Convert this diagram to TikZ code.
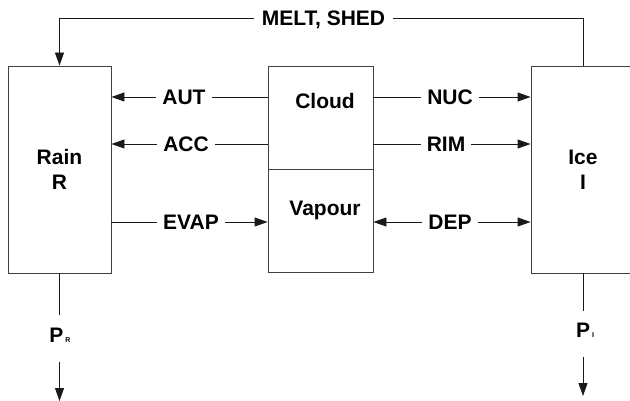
\documentclass[tikz,border=0pt]{standalone}
\usepackage{fontspec}
\setmainfont{Liberation Sans}
\usetikzlibrary{arrows.meta}
\begin{document}
\begin{tikzpicture}[x=1pt, y=-1pt,
    every node/.style={font=\bfseries\fontsize{21}{25}\selectfont},
    box/.style={draw=black!75, line width=0.9pt, inner sep=0pt},
    flux/.style={inner xsep=6pt, inner ysep=2pt, text depth=0pt},
    link/.style={line width=0.9pt, draw=black!90},
    tip/.style={link, -{Triangle[length=13pt, width=9pt]}}]
  \useasboundingbox (0,0) rectangle (630,401);
  \node[box, minimum width=103pt, minimum height=207pt, align=center] (rain) at (59.5,169.5) {Rain\\R};
  \node[box, minimum width=105pt, minimum height=103pt] (cloud) at (320.5,117.5) {};
  \node[box, minimum width=105pt, minimum height=103pt] (vapour) at (320.5,220.5) {};
  \node[box, minimum width=104pt, minimum height=207pt, align=center] (ice) at (583,169.5) {\raisebox{-3pt}{\shortstack{Ice\\[7pt]I}}};
  \node[anchor=base] (cloudtxt) at (325,109) {Cloud};
  \node[anchor=base] (vapourtxt) at (325,216) {Vapour};
  \node[flux, inner xsep=8pt] (melt) at (323.5,18) {MELT, SHED};
  \node[flux] (aut)  at (184,97)  {AUT};
  \node[flux] (acc)  at (186,144) {ACC};
  \node[flux] (evap) at (191,222) {EVAP};
  \node[flux] (nuc)  at (450,97)  {NUC};
  \node[flux] (rim)  at (446,144) {RIM};
  \node[flux] (dep)  at (450,222) {DEP};
  \node[text depth=0pt, inner sep=0pt] (pr) at (60,335) {P\kern2pt{\fontsize{7}{8}\selectfont R}};
  \node[text depth=0pt, inner sep=0pt] (pi) at (585,330) {P\kern2pt{\fontsize{7}{8}\selectfont I}};
  \coordinate (prA) at (59.5,315);
  \coordinate (prB) at (59.5,362);
  \coordinate (prC) at (59.5,401);
  \coordinate (piA) at (583,311);
  \coordinate (piB) at (583,357);
  \coordinate (piC) at (583,396);
  \draw[tip] (melt.west) -| (rain.north);
  \draw[link] (melt.east) -| (ice.north);
  \draw[tip] (aut.west) -- (rain.east |- aut);
  \draw[link] (cloud.west |- aut) -- (aut.east);
  \draw[tip] (acc.west) -- (rain.east |- acc);
  \draw[link] (cloud.west |- acc) -- (acc.east);
  \draw[link] (rain.east |- evap) -- (evap.west);
  \draw[tip] (evap.east) -- (vapour.west |- evap);
  \draw[link] (cloud.east |- nuc) -- (nuc.west);
  \draw[tip] (nuc.east) -- (ice.west |- nuc);
  \draw[link] (cloud.east |- rim) -- (rim.west);
  \draw[tip] (rim.east) -- (ice.west |- rim);
  \draw[tip] (dep.west) -- (vapour.east |- dep);
  \draw[tip] (dep.east) -- (ice.west |- dep);
  \draw[link] (rain.south) -- (prA);
  \draw[tip] (prB) -- (prC);
  \draw[link] (ice.south) -- (piA);
  \draw[tip] (piB) -- (piC);
\end{tikzpicture}
\end{document}
